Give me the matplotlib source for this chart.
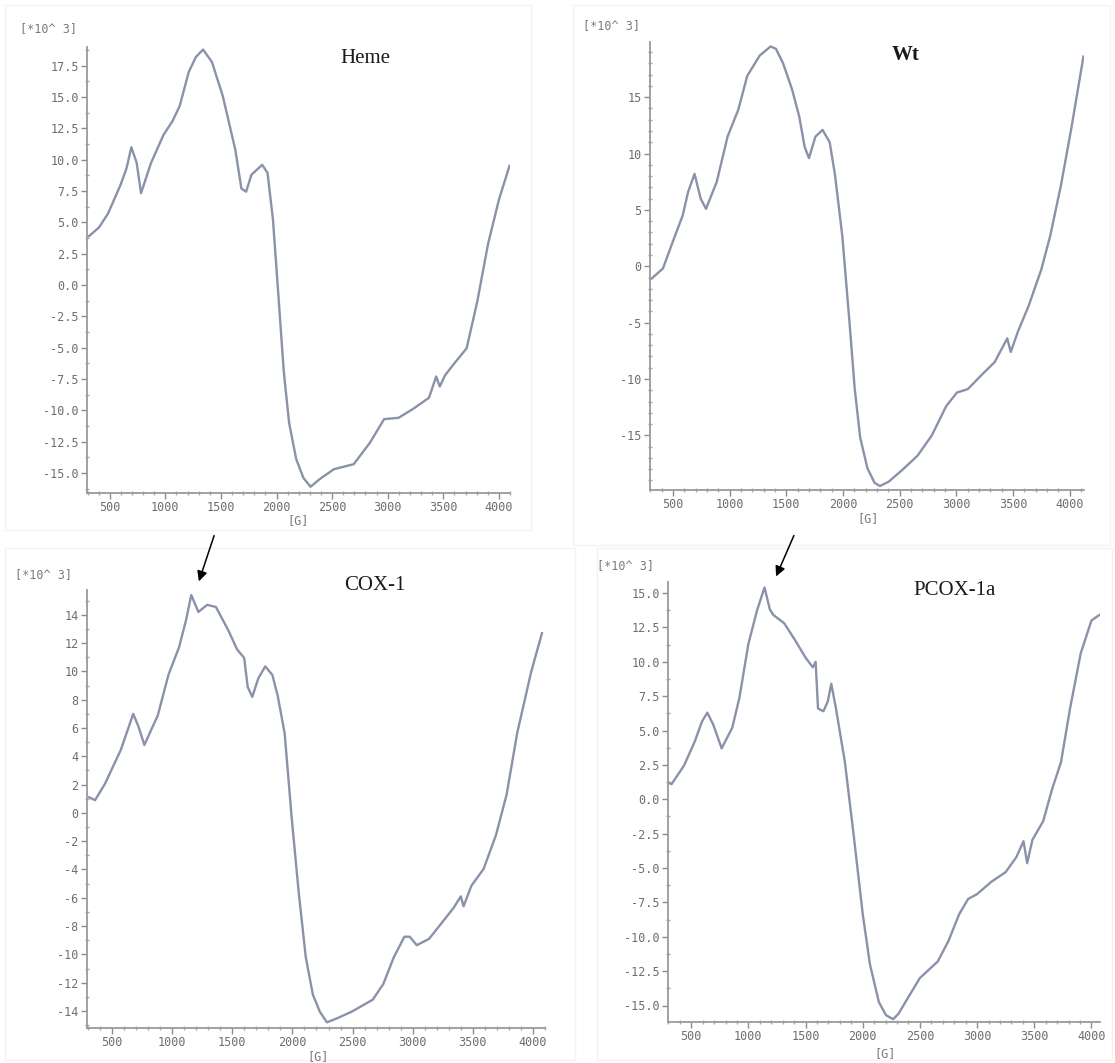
import matplotlib
matplotlib.use("Agg")
import matplotlib.pyplot as plt
from matplotlib.ticker import MultipleLocator, FormatStrFormatter
from matplotlib.patches import Rectangle, FancyArrowPatch

plt.rcParams['axes.unicode_minus'] = False

# ---------------- data (field in G, signal in 10^3 units) ----------------
heme_x = [313, 403, 484, 597, 650, 694, 742, 781, 871, 984, 1065, 1129, 1210, 1274, 1339, 1419, 1516,
          1629, 1684, 1726, 1774, 1871, 1919, 1968, 2016, 2065, 2113, 2177, 2242, 2306, 2387, 2516,
          2694, 2839, 2968, 3097, 3226, 3371, 3436, 3468, 3516, 3613, 3710, 3806, 3903, 4000, 4095]
heme_y = [3.9, 4.6, 5.7, 8.0, 9.3, 11.0, 9.75, 7.33, 9.75, 12.0, 13.1, 14.3, 17.0, 18.2, 18.8, 17.8, 15.1,
          10.8, 7.7, 7.45, 8.8, 9.6, 8.95, 5.2, -0.75, -6.9, -11.0, -13.9, -15.4, -16.1, -15.5, -14.7,
          -14.3, -12.6, -10.7, -10.6, -9.9, -9.0, -7.3, -8.1, -7.2, -6.1, -5.05, -1.3, 3.3, 6.8, 9.5]

wt_x = [310, 411, 506, 585, 633, 690, 744, 791, 886, 981, 1076, 1155, 1265, 1360, 1408, 1471, 1550,
        1613, 1661, 1699, 1756, 1819, 1882, 1929, 1993, 2056, 2103, 2151, 2214, 2277, 2325, 2404,
        2530, 2657, 2783, 2910, 3005, 3100, 3226, 3337, 3448, 3479, 3542, 3637, 3748, 3827, 3922,
        4016, 4120]
wt_y = [-1.1, -0.2, 2.4, 4.5, 6.6, 8.2, 6.0, 5.1, 7.5, 11.5, 13.9, 16.9, 18.7, 19.5, 19.3, 18.0, 15.7,
        13.3, 10.6, 9.6, 11.5, 12.1, 11.0, 8.1, 2.7, -4.9, -10.9, -15.2, -17.9, -19.2, -19.5, -19.1,
        -18.0, -16.8, -15.0, -12.4, -11.2, -10.9, -9.6, -8.5, -6.4, -7.6, -5.8, -3.5, -0.3, 2.7, 7.2,
        12.4, 18.6]

cox_x = [310, 359, 441, 573, 632, 676, 720, 769, 881, 969, 1057, 1115, 1159, 1218, 1291, 1364, 1467,
         1540, 1599, 1628, 1666, 1716, 1774, 1833, 1877, 1935, 1994, 2052, 2111, 2170, 2228, 2287,
         2375, 2492, 2668, 2755, 2843, 2931, 2975, 3034, 3136, 3239, 3341, 3400, 3423, 3488, 3590,
         3693, 3781, 3869, 3986, 4075]
cox_y = [1.1, 0.9, 2.05, 4.45, 5.9, 7.0, 6.1, 4.8, 6.9, 9.75, 11.7, 13.6, 15.4, 14.2, 14.7, 14.55, 12.9,
         11.55, 10.95, 8.9, 8.2, 9.5, 10.35, 9.75, 8.3, 5.65, -0.35, -5.6, -10.2, -12.85, -14.05, -14.8,
         -14.5, -14.05, -13.2, -12.1, -10.2, -8.75, -8.75, -9.35, -8.9, -7.8, -6.7, -5.9, -6.6, -5.15,
         -3.95, -1.55, 1.3, 5.65, 10.0, 12.7]

pcox_x = [297, 328, 437, 531, 594, 641, 694, 766, 859, 922, 1000, 1078, 1141, 1188, 1219, 1313, 1406,
          1500, 1563, 1588, 1609, 1656, 1694, 1725, 1766, 1844, 1922, 2000, 2063, 2141, 2203, 2266,
          2313, 2391, 2500, 2656, 2750, 2844, 2922, 3000, 3125, 3250, 3344, 3406, 3438, 3484, 3578,
          3656, 3734, 3813, 3906, 4000, 4069]
pcox_y = [1.23, 1.1, 2.45, 4.2, 5.65, 6.3, 5.4, 3.7, 5.2, 7.4, 11.3, 13.8, 15.4, 13.8, 13.4, 12.8, 11.6,
          10.3, 9.6, 10.0, 6.6, 6.4, 7.1, 8.4, 6.6, 2.7, -2.7, -8.35, -12.0, -14.75, -15.7, -16.0,
          -15.6, -14.5, -13.0, -11.8, -10.3, -8.35, -7.25, -6.9, -6.0, -5.3, -4.2, -3.05, -4.65, -2.95,
          -1.6, 0.74, 2.7, 6.6, 10.6, 13.0, 13.4]

titles = ["Heme", "Wt", "COX-1", "PCOX-1a"]
scale_label = "[*10^ 3]"
x_label = "[G]"

W, H = 1115, 1063
fig = plt.figure(figsize=(W / 100, H / 100), dpi=100)
fig.patch.set_facecolor("white")


def fx(px):
    return px / W


def fy(py):
    return 1 - py / H


# faint screenshot frames
for (x0, y0, x1, y1) in [(5, 5, 531, 530), (573, 5, 1110, 545), (5, 548, 575, 1060), (597, 548, 1112, 1060)]:
    fig.patches.append(Rectangle((fx(x0), fy(y1)), fx(x1 - x0), (y1 - y0) / H, transform=fig.transFigure,
                                 fill=False, edgecolor="#f3f3f3", linewidth=1.0, zorder=0))

panels = [
    dict(box=(87, 47, 510, 493), x=heme_x, y=heme_y, xlim=(295, 4100), ylim=(-16.6, 19.0), ymaj=2.5, ymin=1.25,
         fmt="%.1f", tpos=(0.657, 0.975), bold=False, spos=(20, 29), gpos=(298, 521)),
    dict(box=(650, 42, 1084, 490), x=wt_x, y=wt_y, xlim=(297, 4125), ylim=(-19.85, 19.9), ymaj=5, ymin=1,
         fmt="%d", tpos=(0.588, 0.97), bold=True, spos=(583, 26), gpos=(868, 519)),
    dict(box=(87, 590, 545, 1028), x=cox_x, y=cox_y, xlim=(292, 4100), ylim=(-15.2, 15.75), ymaj=2, ymin=1,
         fmt="%d", tpos=(0.629, 1.01), bold=False, spos=(15, 575), gpos=(318, 1057)),
    dict(box=(668, 582, 1100, 1022), x=pcox_x, y=pcox_y, xlim=(297, 4075), ylim=(-16.2, 15.8), ymaj=2.5, ymin=1.25,
         fmt="%.1f", tpos=(0.664, 0.98), bold=False, spos=(597, 566), gpos=(885, 1054)),
]

line_color = "#8a92aa"
tick_color = "#8c8c8c"

for p, title in zip(panels, titles):
    l, t, r, b = p["box"]
    ax = fig.add_axes([fx(l), fy(b), (r - l) / W, (b - t) / H])
    ax.plot(p["x"], p["y"], color=line_color, linewidth=1.7, solid_joinstyle="round")
    ax.set_xlim(*p["xlim"])
    ax.set_ylim(*p["ylim"])
    for s in ["top", "right"]:
        ax.spines[s].set_visible(False)
    for s in ["left", "bottom"]:
        ax.spines[s].set_color("#9a9a9a")
        ax.spines[s].set_linewidth(1.3)
    ax.xaxis.set_major_locator(MultipleLocator(500))
    ax.xaxis.set_minor_locator(MultipleLocator(100))
    ax.yaxis.set_major_locator(MultipleLocator(p["ymaj"]))
    ax.yaxis.set_minor_locator(MultipleLocator(p["ymin"]))
    ax.yaxis.set_major_formatter(FormatStrFormatter(p["fmt"]))
    ax.tick_params(which="major", direction="out", length=4, width=1, color=tick_color,
                   labelcolor="#6e6e6e", labelsize=8.5, pad=2)
    ax.tick_params(which="minor", direction="inout", length=3, width=1, color="#a8a8a8")
    for lab in ax.get_xticklabels() + ax.get_yticklabels():
        lab.set_family("DejaVu Sans Mono")
    ax.text(p["tpos"][0], p["tpos"][1], title, transform=ax.transAxes, ha="center", va="center",
            fontsize=15, family="Liberation Serif", color="#1a1a1a",
            fontweight="bold" if p["bold"] else "normal")
    fig.text(fx(p["spos"][0]), fy(p["spos"][1]), scale_label, ha="left", va="center",
             fontsize=8.5, family="DejaVu Sans Mono", color="#7a7a7a")
    fig.text(fx(p["gpos"][0]), fy(p["gpos"][1]), x_label, ha="center", va="center",
             fontsize=8.5, family="DejaVu Sans Mono", color="#7a7a7a")

# arrows pointing at the extra peak
for (x0, y0, x1, y1) in [(215, 533, 198, 584), (795, 533, 775, 579)]:
    fig.add_artist(FancyArrowPatch(
        (fx(x0), fy(y0)), (fx(x1), fy(y1)), transform=fig.transFigure,
        arrowstyle="-|>,head_length=6,head_width=3", color="black", linewidth=1.1, zorder=10))

fig.savefig("out.png", dpi=100, facecolor="white")
